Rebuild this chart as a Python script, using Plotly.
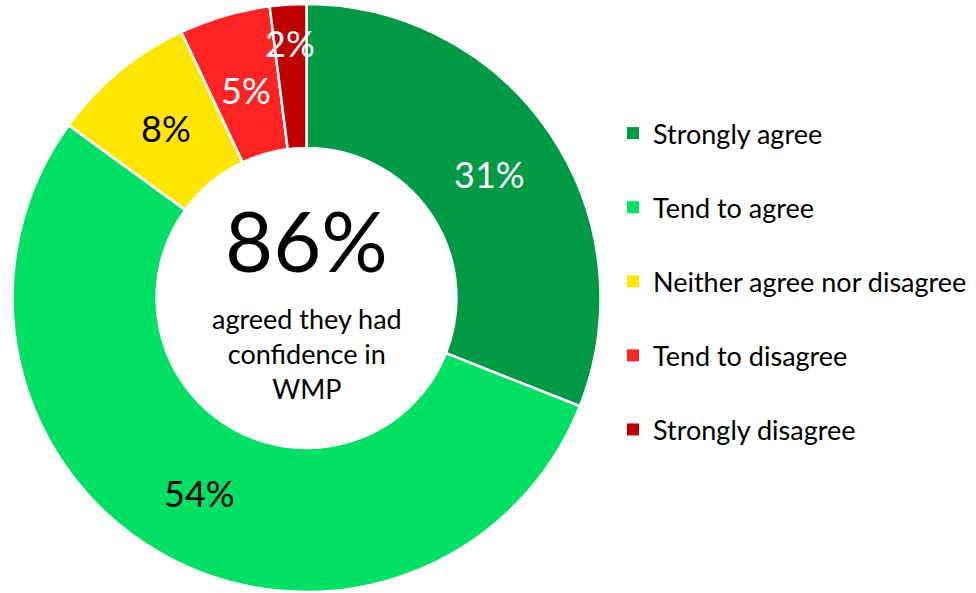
import math
import plotly.graph_objects as go

# ---- data ----
categories = ["Strongly agree", "Tend to agree", "Neither agree nor disagree",
              "Tend to disagree", "Strongly disagree"]
values = [31, 54, 8, 5, 2]
colors = ["#009A46", "#00E064", "#FFE600", "#FF2323", "#C00000"]
label_colors = ["white", "black", "black", "white", "white"]
agreed_total = 86
center_caption = "agreed they had<br>confidence in<br>WMP"

# ---- layout constants ----
W, H = 976, 593
CX, CY = 306.5, 298.0
R_OUT = 294.0
HOLE = 0.51
label_r = [221, 223, 220, 217, 256]
FONT = "Lato, 'Open Sans', sans-serif"

fig = go.Figure()
fig.add_trace(go.Pie(
    labels=categories, values=values, sort=False, direction="clockwise",
    rotation=0, hole=HOLE,
    marker=dict(colors=colors, line=dict(color="white", width=2.5)),
    textinfo="none", showlegend=False, hoverinfo="label+percent",
    domain=dict(x=[(CX - R_OUT) / W, (CX + R_OUT) / W],
                y=[1 - (CY + R_OUT) / H, 1 - (CY - R_OUT) / H]),
))

# legend via empty square-marker traces (one group each for spacing)
for cat, col in zip(categories, colors):
    fig.add_trace(go.Scatter(
        x=[None], y=[None], mode="markers", name=cat, legendgroup=cat,
        marker=dict(symbol="square", size=12, color=col),
    ))

# slice labels positioned from cumulative angles
annotations = []
total = sum(values)
cum = 0
for v, lc, r in zip(values, label_colors, label_r):
    mid = (cum + v / 2) / total * 2 * math.pi
    cum += v
    px = CX + r * math.sin(mid)
    py = CY - r * math.cos(mid)
    annotations.append(dict(
        x=px / W, y=1 - py / H, xref="paper", yref="paper",
        text=f"{v}%", showarrow=False,
        xanchor="center", yanchor="middle",
        font=dict(family=FONT, size=36, color=lc)))

annotations.append(dict(x=CX / W, y=1 - 240 / H, xref="paper", yref="paper",
                        text=f"{agreed_total}%", showarrow=False,
                        xanchor="center", yanchor="middle",
                        font=dict(family=FONT, size=83, color="black")))
annotations.append(dict(x=CX / W, y=1 - 353 / H, xref="paper", yref="paper",
                        text=center_caption, showarrow=False,
                        xanchor="center", yanchor="middle",
                        font=dict(family=FONT, size=27, color="black")))

fig.update_layout(
    width=W, height=H, margin=dict(l=0, r=0, t=0, b=0),
    paper_bgcolor="white", plot_bgcolor="white",
    xaxis=dict(visible=False), yaxis=dict(visible=False),
    annotations=annotations,
    legend=dict(x=613 / W, y=1 - 109 / H, xanchor="left", yanchor="top",
                traceorder="grouped", tracegroupgap=36,
                font=dict(family=FONT, size=27, color="black"),
                bgcolor="rgba(0,0,0,0)"),
)

fig.write_html("out.html", config={"displayModeBar": False},
               post_script="document.body.style.margin='0';document.body.style.padding='0';")
